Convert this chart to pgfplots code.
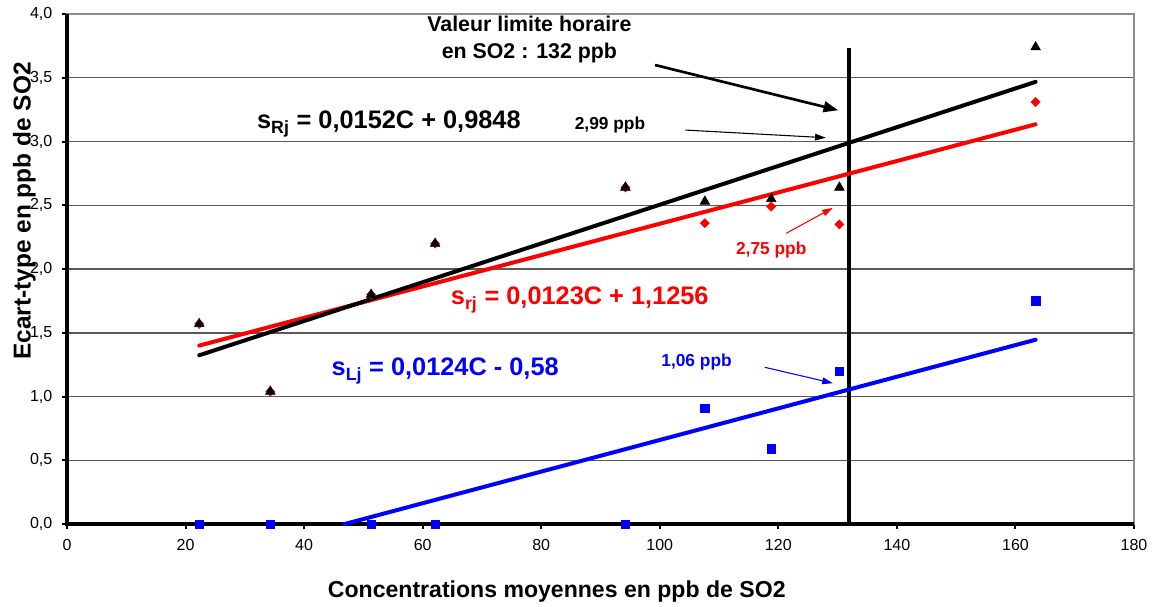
\documentclass[border=0pt]{standalone}
\usepackage{pgfplots}
\pgfplotsset{compat=1.18}
\usetikzlibrary{arrows.meta,calc}
\usepackage{fontspec}
\setmainfont{Liberation Sans}

\begin{document}
\begin{tikzpicture}
\begin{axis}[
    name=ax,
    width=800pt, height=382.5pt, scale only axis,
    xmin=0, xmax=180, ymin=0, ymax=4,
    xtick={0,20,...,180}, ytick={0,0.5,...,4},
    tick pos=left, tick align=outside, major tick length=4pt,
    tick style={black, line width=1.5pt},
    axis line style={black!45, line width=1pt},
    ymajorgrids, grid style={black!65, line width=1pt},
    /pgf/number format/assume math mode=true,
    yticklabel style={xshift=-3.5pt, /pgf/number format/.cd, fixed, fixed zerofill, precision=1, use comma},
    xticklabel style={yshift=-3.5pt},
    tick label style={font=\fontsize{12}{14}\selectfont},
    xlabel={Concentrations moyennes en ppb de SO2},
    ylabel={Ecart-type en ppb de SO2},
    xlabel style={font=\bfseries\fontsize{17.3}{20}\selectfont, at={(rel axis cs:0.459,-0.133)}, anchor=center},
    ylabel style={font=\bfseries\fontsize{18.3}{21}\selectfont, at={(rel axis cs:-0.040,0.614)}, anchor=center},
    clip=false,
]

% thick left and bottom axis lines
\draw[black, line width=3pt] (axis cs:0,4) -- (axis cs:0,0) -- (axis cs:180,0);

% limit value line
\addplot[black, line width=3pt] coordinates {(132,0) (132,3.73)};

% regression lines
\addplot[red, line width=3pt, line cap=round] coordinates {(22.3,1.40) (163.4,3.135)};
\addplot[black, line width=3pt, line cap=round] coordinates {(22.3,1.324) (163.4,3.468)};
\addplot[blue, line width=3pt, line cap=round] coordinates {(46.77,0) (163.4,1.446)};

% s_rj
\addplot[only marks, red, mark=square*, mark size=2.4pt, mark options={rotate=45}]
  coordinates {
    (22.3,1.57) (34.3,1.04) (51.3,1.80) (62.1,2.20) (94.2,2.64)
    (107.6,2.36) (118.8,2.49) (130.3,2.35) (163.4,3.31)
  };
% s_Rj
\addplot[only marks, black, mark=triangle*, mark size=4.2pt]
  coordinates {
    (22.3,1.57) (34.3,1.04) (51.3,1.80) (62.1,2.20) (94.2,2.64)
    (107.6,2.53) (118.8,2.55) (130.3,2.64) (163.4,3.74)
  };
% s_Lj
\addplot[only marks, blue, mark=square*, mark size=3.2pt]
  coordinates {
    (22.3,0) (34.3,0) (51.3,0) (62.1,0) (94.2,0)
    (107.6,0.91) (118.8,0.59) (130.3,1.20) (163.4,1.75)
  };

% annotations
\node[align=center, font=\bfseries\fontsize{16}{20}\selectfont] at (axis cs:78,3.80)
  {Valeur limite horaire\\en SO2 : 132 ppb};
\draw[-{Triangle[length=11pt,width=8pt]}, line width=2pt] (axis cs:99.2,3.60) -- (axis cs:130.1,3.245);

\node[font=\bfseries\fontsize{19}{22}\selectfont] at (axis cs:54.3,3.14)
  {s\textsubscript{Rj} = 0,0152C + 0,9848};
\node[font=\bfseries\fontsize{13}{15}\selectfont] at (axis cs:91.6,3.13) {2,99 ppb};
\draw[-{Triangle[length=8pt,width=5pt]}, line width=0.8pt] (axis cs:104.3,3.09) -- (axis cs:128.0,3.03);

\node[red, font=\bfseries\fontsize{13}{15}\selectfont] at (axis cs:118.8,2.15) {2,75 ppb};
\draw[red, -{Triangle[length=8pt,width=5pt]}, line width=0.8pt] (axis cs:121.3,2.28) -- (axis cs:129.2,2.48);

\node[red, font=\bfseries\fontsize{19}{22}\selectfont] at (axis cs:86.5,1.76)
  {s\textsubscript{rj} = 0,0123C + 1,1256};

\node[blue, font=\bfseries\fontsize{19}{22}\selectfont] at (axis cs:63.8,1.20)
  {s\textsubscript{Lj} = 0,0124C - 0,58};
\node[blue, font=\bfseries\fontsize{13}{15}\selectfont] at (axis cs:106.2,1.27) {1,06 ppb};
\draw[blue, -{Triangle[length=8pt,width=5pt]}, line width=0.8pt] (axis cs:117.7,1.23) -- (axis cs:129.2,1.105);

\end{axis}
\pgfresetboundingbox
\useasboundingbox ($(ax.south west)+(-50.25pt,-61.5pt)$) rectangle ($(ax.north east)+(14.25pt,10.5pt)$);
\end{tikzpicture}
\end{document}
